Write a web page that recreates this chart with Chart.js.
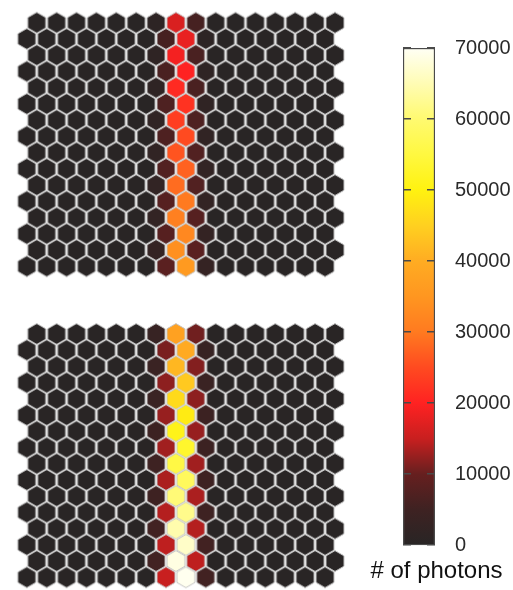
<!DOCTYPE html>
<html>
<head>
<meta charset="utf-8">
<script src="https://cdn.jsdelivr.net/npm/chart.js@4/dist/chart.umd.min.js"></script>
<style>
  html, body { margin: 0; padding: 0; background: #fff; }
  body { width: 513px; height: 590px; overflow: hidden; position: relative; }
  canvas { position: absolute; }
  #topMap { left: 0; top: 0; }
  #bottomMap { left: 0; top: 300px; }
  #colorBar { left: 360px; top: 0; }
</style>
</head>
<body>
<canvas id="topMap" width="360" height="300"></canvas>
<canvas id="bottomMap" width="360" height="290"></canvas>
<canvas id="colorBar" width="153" height="590"></canvas>
<script>
// camera layout: 16 rows x 16 columns of hexagonal pixels, even rows shifted right by half a pixel
const hexRows = 16;
const hexCols = 16;
const backgroundCounts = 300;

// which column the track hits in each row
const peakCol = [7, 8, 7, 8, 7, 8, 7, 8, 7, 8, 7, 8, 7, 8, 7, 8];
const nearCol = [8, 7, 8, 7, 8, 7, 8, 7, 8, 7, 8, 7, 8, 7, 8, 7];
const farCol  = [6, 9, 6, 9, 6, 9, 6, 9, 6, 9, 6, 9, 6, 9, 6, 9];

// photon counts (upper image)
const topPeak = [16500, 18000, 19000, 20000, 21000, 22000, 23500, 25000, 26000, 27500, 28500, 30000, 31000, 32500, 34000, 36000];
const topNear = [6000, 6000, 6500, 6500, 6500, 7000, 7000, 7000, 7500, 7500, 7500, 8000, 8000, 8000, 8500, 8500];
const topFar  = [1200, 1200, 1500, 1500, 1500, 1800, 1800, 2000, 2000, 2200, 2200, 2500, 2500, 2800, 2800, 3000];

// lower image
const bottomPeak = [37500, 39500, 41500, 44000, 46500, 49000, 51000, 53000, 55500, 58000, 60500, 62000, 64500, 66500, 68500, 69500];
const bottomNear = [10500, 11000, 11500, 12000, 12000, 12500, 12500, 13000, 13000, 13500, 13500, 14000, 14000, 14500, 14500, 15000];
const bottomFar  = [3500, 3500, 4000, 4000, 4000, 4500, 4500, 4500, 5000, 5000, 5000, 5000, 5500, 5500, 5500, 5500];

// colour scale
const scaleMax = 70000;
const stopValues = [0, 5000, 10000, 15000, 20000, 25000, 30000, 35000, 40000, 45000, 50000, 55000, 60000, 65000, 70000];
const stopColors = [
  [40, 37, 37], [62, 34, 34], [102, 31, 31], [200, 31, 31], [255, 34, 34],
  [255, 74, 32], [255, 122, 32], [255, 150, 32], [255, 172, 34], [255, 208, 32],
  [255, 242, 16], [255, 248, 64], [255, 250, 112], [255, 252, 180], [255, 255, 245]
];
const tickValues = [0, 10000, 20000, 30000, 40000, 50000, 60000, 70000];
const tickLabels = ['0', '10000', '20000', '30000', '40000', '50000', '60000', '70000'];
const barLabel = '# of photons';

function colorFor(v) {
  if (v <= stopValues[0]) return rgb(stopColors[0]);
  for (let i = 1; i < stopValues.length; i++) {
    if (v <= stopValues[i]) {
      const t = (v - stopValues[i - 1]) / (stopValues[i] - stopValues[i - 1]);
      const a = stopColors[i - 1], b = stopColors[i];
      return rgb([0, 1, 2].map(k => Math.round(a[k] + (b[k] - a[k]) * t)));
    }
  }
  return rgb(stopColors[stopColors.length - 1]);
}

function rgb(c) {
  return `rgb(${c[0]},${c[1]},${c[2]})`;
}

// one small canvas per colour, used as the point style
const hexCache = {};
function hexImage(color) {
  if (hexCache[color]) return hexCache[color];
  const cv = document.createElement('canvas');
  cv.width = 22;
  cv.height = 24;
  const g = cv.getContext('2d');
  const cx = 11, cy = 12, R = 10.4, hw = 9;
  g.beginPath();
  g.moveTo(cx, cy - R);
  g.lineTo(cx + hw, cy - R / 2);
  g.lineTo(cx + hw, cy + R / 2);
  g.lineTo(cx, cy + R);
  g.lineTo(cx - hw, cy + R / 2);
  g.lineTo(cx - hw, cy - R / 2);
  g.closePath();
  g.fillStyle = color;
  g.fill();
  g.strokeStyle = '#c4c4c4';
  g.lineWidth = 1;
  g.stroke();
  hexCache[color] = cv;
  return cv;
}

function buildCells(peak, near, far) {
  const cells = [];
  for (let r = 0; r < hexRows; r++) {
    for (let c = 0; c < hexCols; c++) {
      let v = backgroundCounts;
      if (c === peakCol[r]) v = peak[r];
      else if (c === nearCol[r]) v = near[r];
      else if (c === farCol[r]) v = far[r];
      cells.push({ x: c + (r % 2 === 0 ? 0.5 : 0), y: r, v: v });
    }
  }
  return cells;
}

function hexMap(id, cells, firstRowPx, height) {
  const colPitch = 20.45, rowPitch = 16.8, firstColPx = 22.4, width = 360;
  new Chart(document.getElementById(id), {
    type: 'scatter',
    data: {
      datasets: [{
        data: cells,
        pointStyle: ctx => ctx.raw ? hexImage(colorFor(ctx.raw.v)) : 'circle',
        pointRadius: 2,
        clip: false
      }]
    },
    options: {
      responsive: false,
      animation: false,
      events: [],
      layout: { padding: 0 },
      plugins: { legend: { display: false }, tooltip: { enabled: false } },
      scales: {
        x: { type: 'linear', display: false, min: -firstColPx / colPitch, max: (width - firstColPx) / colPitch },
        y: { type: 'linear', display: false, reverse: true, min: -firstRowPx / rowPitch, max: (height - firstRowPx) / rowPitch }
      }
    }
  });
}

hexMap('topMap', buildCells(topPeak, topNear, topFar), 18.3, 300);
hexMap('bottomMap', buildCells(bottomPeak, bottomNear, bottomFar), 30, 290);

// colour bar
new Chart(document.getElementById('colorBar'), {
  type: 'bar',
  data: {
    labels: [''],
    datasets: [{
      data: [scaleMax],
      backgroundColor: ctx => {
        const chart = ctx.chart;
        if (!chart.chartArea) return null;
        const y = chart.scales.y;
        const grad = chart.ctx.createLinearGradient(0, y.getPixelForValue(0), 0, y.getPixelForValue(scaleMax));
        stopValues.forEach((v, i) => grad.addColorStop(v / scaleMax, rgb(stopColors[i])));
        return grad;
      },
      borderColor: '#4a4a4a',
      borderWidth: 1.5,
      borderSkipped: false,
      categoryPercentage: 1,
      barPercentage: 1
    }]
  },
  options: {
    responsive: false,
    animation: false,
    events: [],
    layout: { padding: { left: 0, top: 48, right: 0, bottom: 0 } },
    plugins: {
      legend: { display: false },
      tooltip: { enabled: false },
      title: {
        display: true,
        position: 'bottom',
        text: barLabel,
        color: '#111',
        font: { family: 'Liberation Sans', size: 24, weight: 'normal' },
        padding: { top: 12, bottom: 4 }
      }
    },
    scales: {
      x: { display: false },
      // empty axis that only keeps the bar clear of the left edge
      spacer: {
        type: 'linear',
        position: 'left',
        afterFit: s => { s.width = 43; },
        ticks: { display: false },
        grid: { display: false },
        border: { display: false }
      },
      y: {
        position: 'right',
        min: 0,
        max: scaleMax,
        afterBuildTicks: s => { s.ticks = tickValues.map(v => ({ value: v })); },
        afterFit: s => { s.width = 78; },
        ticks: {
          padding: 20,
          color: '#2a2a2a',
          font: { family: 'Liberation Sans', size: 20 },
          callback: (v, i) => tickLabels[i]
        },
        grid: { drawTicks: false, z: 1, color: '#4a4a4a', lineWidth: 1.5 },
        border: { display: false, dash: [8, 16] }
      }
    }
  }
});
</script>
</body>
</html>
